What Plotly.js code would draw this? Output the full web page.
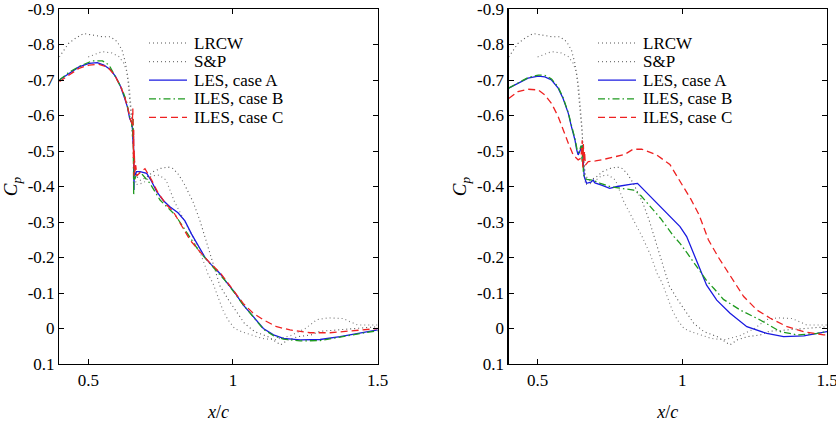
<!DOCTYPE html>
<html>
<head>
<meta charset="utf-8">
<script src="https://cdn.plot.ly/plotly-3.0.1.min.js"></script>
<style>html,body{margin:0;padding:0;background:#fff;}#chart{width:836px;height:440px;}</style>
</head>
<body>
<div id="chart"></div>
<script>
// ---- Experimental data (shared by both panels) ----
var lrcwX = [0.400,0.410,0.432,0.455,0.484,0.513,0.548,0.577,0.600,0.617,0.629,0.637,0.643,0.648,0.654,0.658,0.661,0.665,0.680,0.700,0.725,0.751,0.775,0.792,0.809,0.830,0.848,0.862,0.885,0.908,0.928,0.955,0.985,1.017,1.040,1.075,1.121,1.165,1.190,1.225,1.270,1.300,1.350,1.400,1.450,1.500];
var lrcwCp = [-0.765,-0.778,-0.803,-0.817,-0.831,-0.827,-0.822,-0.822,-0.808,-0.784,-0.747,-0.700,-0.653,-0.597,-0.550,-0.493,-0.456,-0.430,-0.418,-0.425,-0.442,-0.451,-0.455,-0.451,-0.437,-0.410,-0.380,-0.357,-0.306,-0.246,-0.190,-0.120,-0.080,-0.042,-0.014,0.009,0.023,0.046,0.032,0.023,0.018,0.008,0.005,0.002,-0.002,-0.005];
var spX = [0.500,0.520,0.548,0.582,0.606,0.623,0.635,0.642,0.648,0.653,0.657,0.661,0.665,0.690,0.720,0.745,0.769,0.798,0.832,0.861,0.890,0.913,0.931,0.948,0.965,0.983,1.006,1.030,1.064,1.100,1.144,1.200,1.250,1.290,1.330,1.380,1.430,1.500];
var spCp = [-0.765,-0.772,-0.780,-0.776,-0.766,-0.747,-0.719,-0.680,-0.630,-0.570,-0.500,-0.440,-0.405,-0.410,-0.430,-0.432,-0.418,-0.357,-0.306,-0.259,-0.207,-0.155,-0.127,-0.090,-0.052,-0.024,0.000,0.009,0.018,0.028,0.032,0.020,0.000,-0.025,-0.030,-0.028,-0.010,-0.010];

// ---- Left panel simulations ----
var lesAX_L = [0.400,0.434,0.468,0.503,0.531,0.554,0.578,0.595,0.612,0.624,0.635,0.643,0.650,0.653,0.655,0.656,0.657,0.658,0.659,0.662,0.667,0.679,0.702,0.719,0.737,0.760,0.782,0.810,0.834,0.857,0.880,0.905,0.925,0.955,0.978,1.002,1.036,1.070,1.105,1.140,1.174,1.232,1.301,1.370,1.428,1.500];
var lesACp_L = [-0.700,-0.719,-0.737,-0.747,-0.749,-0.742,-0.728,-0.709,-0.681,-0.653,-0.625,-0.592,-0.580,-0.560,-0.520,-0.560,-0.470,-0.390,-0.445,-0.432,-0.442,-0.442,-0.437,-0.414,-0.385,-0.360,-0.343,-0.326,-0.303,-0.266,-0.232,-0.198,-0.180,-0.155,-0.130,-0.106,-0.066,-0.033,0.000,0.018,0.028,0.032,0.031,0.023,0.014,0.004];
var ilesBX_L = [0.400,0.434,0.468,0.514,0.549,0.572,0.600,0.618,0.632,0.642,0.650,0.653,0.655,0.656,0.657,0.658,0.660,0.665,0.680,0.713,0.748,0.771,0.800,0.823,0.852,0.880,0.915,0.944,0.973,1.002,1.036,1.070,1.105,1.140,1.174,1.232,1.301,1.370,1.428,1.500];
var ilesBCp_L = [-0.700,-0.722,-0.738,-0.754,-0.754,-0.742,-0.700,-0.672,-0.640,-0.600,-0.580,-0.540,-0.590,-0.480,-0.376,-0.450,-0.420,-0.430,-0.440,-0.409,-0.362,-0.343,-0.320,-0.292,-0.254,-0.221,-0.188,-0.163,-0.135,-0.104,-0.066,-0.033,0.002,0.020,0.030,0.035,0.034,0.024,0.015,0.006];
var ilesCX_L = [0.400,0.434,0.468,0.503,0.537,0.566,0.590,0.610,0.625,0.637,0.645,0.652,0.654,0.656,0.657,0.658,0.659,0.661,0.664,0.668,0.680,0.696,0.719,0.742,0.771,0.794,0.829,0.852,0.886,0.921,0.955,0.984,1.010,1.036,1.070,1.106,1.151,1.197,1.266,1.335,1.405,1.500];
var ilesCCp_L = [-0.695,-0.715,-0.733,-0.742,-0.744,-0.737,-0.715,-0.685,-0.655,-0.620,-0.590,-0.575,-0.620,-0.480,-0.560,-0.430,-0.500,-0.440,-0.460,-0.430,-0.440,-0.450,-0.418,-0.381,-0.348,-0.329,-0.282,-0.249,-0.216,-0.184,-0.158,-0.127,-0.100,-0.070,-0.043,-0.024,-0.005,0.004,0.012,0.012,0.007,0.000];

// ---- Right panel simulations ----
var lesAX_R = [0.400,0.432,0.467,0.502,0.525,0.548,0.571,0.588,0.606,0.617,0.629,0.635,0.640,0.645,0.650,0.653,0.656,0.658,0.661,0.669,0.684,0.692,0.698,0.721,0.749,0.775,0.798,0.825,0.845,0.862,0.879,0.902,0.925,0.957,0.992,1.015,1.038,1.061,1.084,1.119,1.165,1.223,1.292,1.350,1.420,1.500];
var lesACp_R = [-0.677,-0.690,-0.705,-0.711,-0.709,-0.700,-0.677,-0.648,-0.606,-0.568,-0.531,-0.503,-0.489,-0.497,-0.508,-0.515,-0.490,-0.450,-0.428,-0.409,-0.412,-0.418,-0.410,-0.404,-0.395,-0.400,-0.404,-0.407,-0.409,-0.395,-0.378,-0.360,-0.343,-0.315,-0.287,-0.259,-0.212,-0.165,-0.122,-0.080,-0.043,-0.005,0.014,0.023,0.021,0.009];
var ilesBX_R = [0.400,0.432,0.467,0.502,0.525,0.548,0.571,0.588,0.606,0.617,0.629,0.636,0.641,0.646,0.650,0.654,0.656,0.658,0.661,0.670,0.690,0.717,0.750,0.786,0.832,0.855,0.879,0.925,0.971,0.992,1.017,1.040,1.064,1.084,1.110,1.142,1.200,1.269,1.339,1.397,1.466,1.500];
var ilesBCp_R = [-0.677,-0.692,-0.707,-0.714,-0.713,-0.703,-0.680,-0.650,-0.608,-0.572,-0.535,-0.505,-0.495,-0.505,-0.515,-0.470,-0.520,-0.440,-0.425,-0.420,-0.418,-0.409,-0.400,-0.395,-0.390,-0.376,-0.353,-0.310,-0.259,-0.240,-0.212,-0.186,-0.160,-0.135,-0.112,-0.082,-0.052,-0.024,0.009,0.018,0.014,0.009];
var ilesCX_R = [0.400,0.432,0.467,0.502,0.525,0.548,0.571,0.588,0.606,0.623,0.640,0.650,0.654,0.656,0.658,0.660,0.662,0.665,0.675,0.700,0.721,0.768,0.800,0.830,0.860,0.911,0.957,0.994,1.029,1.058,1.090,1.125,1.160,1.190,1.212,1.258,1.304,1.362,1.420,1.489,1.500];
var ilesCCp_R = [-0.648,-0.667,-0.674,-0.672,-0.658,-0.634,-0.597,-0.559,-0.522,-0.489,-0.475,-0.480,-0.530,-0.450,-0.520,-0.470,-0.500,-0.460,-0.470,-0.472,-0.475,-0.484,-0.490,-0.505,-0.505,-0.489,-0.462,-0.412,-0.365,-0.320,-0.250,-0.200,-0.155,-0.120,-0.090,-0.052,-0.029,-0.005,0.009,0.018,0.018];

// ---- Labels ----
var seriesNames = ['LRCW','S&P','LES, case A','ILES, case B','ILES, case C'];
var xTickVals = [0.5,1,1.5];
var xTickText = ['0.5','1','1.5'];
var yTickVals = [-0.9,-0.8,-0.7,-0.6,-0.5,-0.4,-0.3,-0.2,-0.1,0,0.1];
var yTickText = ['-0.9','-0.8','-0.7','-0.6','-0.5','-0.4','-0.3','-0.2','-0.1','0','0.1'];

var styles = [
  {color:'#555555', width:1.1, dash:'1px,3px'},
  {color:'#777777', width:1.1, dash:'1px,3px'},
  {color:'#1a1ae0', width:1.3, dash:'solid'},
  {color:'#1f9a1f', width:1.3, dash:'7px,3px,1.5px,3px'},
  {color:'#ee2222', width:1.3, dash:'7px,4px'}
];

function tr(x, y, i, xa, ya) {
  return {x:x, y:y, type:'scatter', mode:'lines', name:seriesNames[i], showlegend:false,
          line:{color:styles[i].color, width:styles[i].width, dash:styles[i].dash, shape:'linear'},
          xaxis:xa, yaxis:ya, hoverinfo:'skip'};
}

var traces = [
  tr(lrcwX, lrcwCp, 0, 'x', 'y'),
  tr(spX, spCp, 1, 'x', 'y'),
  tr(lesAX_L, lesACp_L, 2, 'x', 'y'),
  tr(ilesBX_L, ilesBCp_L, 3, 'x', 'y'),
  tr(ilesCX_L, ilesCCp_L, 4, 'x', 'y'),
  tr(lrcwX, lrcwCp, 0, 'x2', 'y2'),
  tr(spX, spCp, 1, 'x2', 'y2'),
  tr(lesAX_R, lesACp_R, 2, 'x2', 'y2'),
  tr(ilesBX_R, ilesBCp_R, 3, 'x2', 'y2'),
  tr(ilesCX_R, ilesCCp_R, 4, 'x2', 'y2')
];

var W = 836, H = 440;
var FONT = '"Liberation Serif", "DejaVu Serif", serif';

function xax(dom, anchor) {
  return {domain:dom, anchor:anchor, range:[0.4,1.5], tickvals:xTickVals, ticktext:xTickText,
    ticks:'inside', ticklen:5, tickwidth:1, tickcolor:'#000', mirror:'allticks', showline:true,
    linecolor:'#000', linewidth:1.3, showgrid:false, zeroline:false, ticklabeloverflow:'allow',
    tickfont:{family:FONT, size:17, color:'#000'},
    title:{text:'<i>x</i>/<i>c</i>', font:{family:FONT, size:18, color:'#000'}, standoff:16}};
}
function yax(dom, anchor) {
  return {domain:dom, anchor:anchor, range:[0.1,-0.9], tickvals:yTickVals, ticktext:yTickText,
    ticks:'inside', ticklen:5, tickwidth:1, tickcolor:'#000', mirror:'allticks', showline:true,
    linecolor:'#000', linewidth:1.3, showgrid:false, zeroline:false, ticklabeloverflow:'allow',
    tickfont:{family:FONT, size:17, color:'#000'},
    title:{text:'<i>C<sub>p</sub></i>', font:{family:FONT, size:19, color:'#000'}, standoff:5}};
}

var yDom = [76/H, 431/H];
var legendRowsY = [43, 61.6, 80.2, 98.8, 117.4];
var shapes = [], annotations = [];
[[149,187,192],[598,636,641]].forEach(function(p){
  for (var i=0;i<5;i++){
    var yy = 1 - legendRowsY[i]/H;
    shapes.push({type:'line', xref:'paper', yref:'paper', x0:p[0]/W, x1:p[1]/W, y0:yy, y1:yy,
      line:{color:styles[i].color, width:styles[i].width, dash:styles[i].dash}});
    annotations.push({xref:'paper', yref:'paper', x:p[2]/W, y:yy, xanchor:'left', yanchor:'middle',
      text:seriesNames[i].replace('&','&amp;'), showarrow:false, font:{family:FONT, size:17, color:'#000'}});
  }
});

var layout = {
  width:W, height:H, margin:{l:0,r:0,t:0,b:0}, paper_bgcolor:'#fff', plot_bgcolor:'#fff',
  showlegend:false, font:{family:FONT, color:'#000'},
  xaxis: xax([59.3/W, 377.7/W], 'y'),
  yaxis: yax(yDom, 'x'),
  xaxis2: xax([508.7/W, 827/W], 'y2'),
  yaxis2: yax(yDom, 'x2'),
  shapes: shapes,
  annotations: annotations
};

Plotly.newPlot('chart', traces, layout, {displayModeBar:false, staticPlot:true});
</script>
</body>
</html>
